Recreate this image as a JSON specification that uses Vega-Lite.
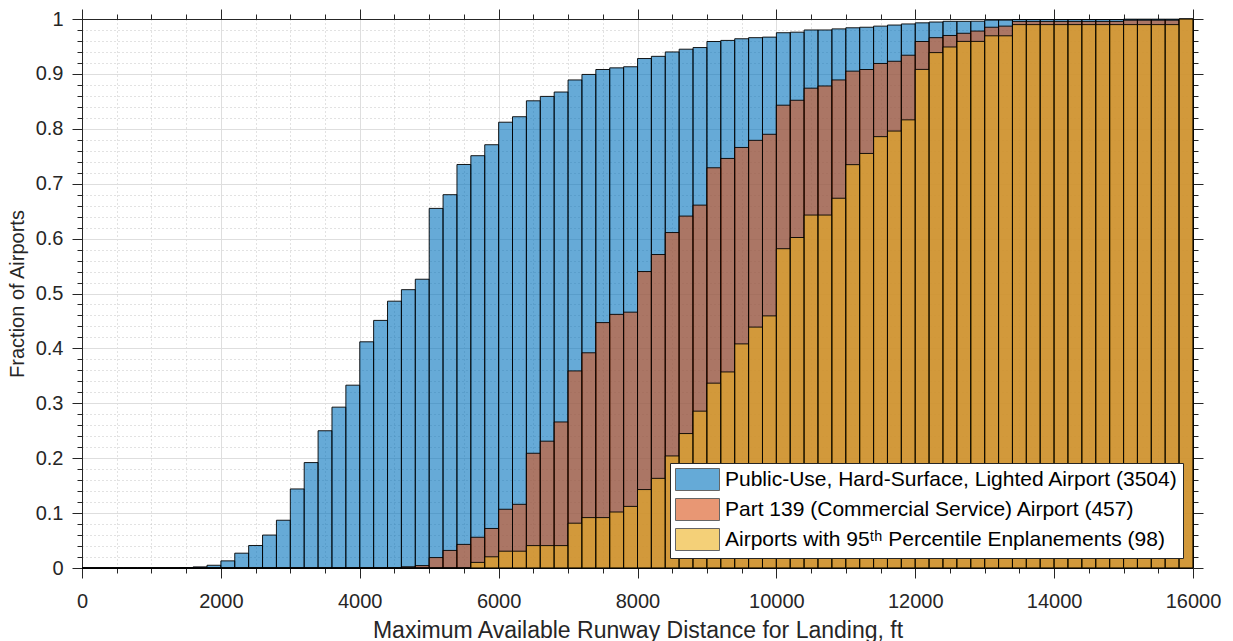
{
  "$schema": "https://vega.github.io/schema/vega-lite/v6.json",
  "width": 1111,
  "height": 549,
  "autosize": {"type": "none"},
  "padding": {"left": 82, "top": 19, "right": 40, "bottom": 73},
  "background": "white",
  "config": {
    "view": {"stroke": null},
    "font": "Liberation Sans",
    "axis": {
      "labelFont": "Liberation Sans",
      "labelFontSize": 20,
      "labelColor": "#262626",
      "titleFont": "Liberation Sans",
      "titleFontSize": 20,
      "titleFontWeight": "normal",
      "titleColor": "#262626",
      "domainColor": "#262626",
      "domainWidth": 1,
      "tickColor": "#262626",
      "tickWidth": 1,
      "labelFlush": false,
      "labelOverlap": false,
      "labelBound": false
    }
  },
  "data": {
    "values": [
      {"lo": 0, "hi": 200, "pub": 0, "p139": 0, "top": 0},
      {"lo": 200, "hi": 400, "pub": 0, "p139": 0, "top": 0},
      {"lo": 400, "hi": 600, "pub": 0, "p139": 0, "top": 0},
      {"lo": 600, "hi": 800, "pub": 0, "p139": 0, "top": 0},
      {"lo": 800, "hi": 1000, "pub": 0, "p139": 0, "top": 0},
      {"lo": 1000, "hi": 1200, "pub": 0, "p139": 0, "top": 0},
      {"lo": 1200, "hi": 1400, "pub": 0, "p139": 0, "top": 0},
      {"lo": 1400, "hi": 1600, "pub": 0.0006, "p139": 0, "top": 0},
      {"lo": 1600, "hi": 1800, "pub": 0.002, "p139": 0, "top": 0},
      {"lo": 1800, "hi": 2000, "pub": 0.005, "p139": 0, "top": 0},
      {"lo": 2000, "hi": 2200, "pub": 0.013, "p139": 0, "top": 0},
      {"lo": 2200, "hi": 2400, "pub": 0.027, "p139": 0, "top": 0},
      {"lo": 2400, "hi": 2600, "pub": 0.041, "p139": 0, "top": 0},
      {"lo": 2600, "hi": 2800, "pub": 0.060, "p139": 0, "top": 0},
      {"lo": 2800, "hi": 3000, "pub": 0.087, "p139": 0, "top": 0},
      {"lo": 3000, "hi": 3200, "pub": 0.144, "p139": 0, "top": 0},
      {"lo": 3200, "hi": 3400, "pub": 0.192, "p139": 0, "top": 0},
      {"lo": 3400, "hi": 3600, "pub": 0.250, "p139": 0, "top": 0},
      {"lo": 3600, "hi": 3800, "pub": 0.293, "p139": 0, "top": 0},
      {"lo": 3800, "hi": 4000, "pub": 0.333, "p139": 0, "top": 0},
      {"lo": 4000, "hi": 4200, "pub": 0.412, "p139": 0, "top": 0},
      {"lo": 4200, "hi": 4400, "pub": 0.451, "p139": 0, "top": 0},
      {"lo": 4400, "hi": 4600, "pub": 0.486, "p139": 0, "top": 0},
      {"lo": 4600, "hi": 4800, "pub": 0.507, "p139": 0.0022, "top": 0},
      {"lo": 4800, "hi": 5000, "pub": 0.526, "p139": 0.0044, "top": 0},
      {"lo": 5000, "hi": 5200, "pub": 0.655, "p139": 0.019, "top": 0},
      {"lo": 5200, "hi": 5400, "pub": 0.680, "p139": 0.032, "top": 0},
      {"lo": 5400, "hi": 5600, "pub": 0.735, "p139": 0.043, "top": 0},
      {"lo": 5600, "hi": 5800, "pub": 0.751, "p139": 0.056, "top": 0.0102},
      {"lo": 5800, "hi": 6000, "pub": 0.771, "p139": 0.072, "top": 0.0204},
      {"lo": 6000, "hi": 6200, "pub": 0.812, "p139": 0.107, "top": 0.0306},
      {"lo": 6200, "hi": 6400, "pub": 0.822, "p139": 0.116, "top": 0.0306},
      {"lo": 6400, "hi": 6600, "pub": 0.851, "p139": 0.209, "top": 0.0408},
      {"lo": 6600, "hi": 6800, "pub": 0.859, "p139": 0.231, "top": 0.0408},
      {"lo": 6800, "hi": 7000, "pub": 0.867, "p139": 0.266, "top": 0.0408},
      {"lo": 7000, "hi": 7200, "pub": 0.889, "p139": 0.359, "top": 0.0816},
      {"lo": 7200, "hi": 7400, "pub": 0.899, "p139": 0.392, "top": 0.0918},
      {"lo": 7400, "hi": 7600, "pub": 0.908, "p139": 0.447, "top": 0.0918},
      {"lo": 7600, "hi": 7800, "pub": 0.911, "p139": 0.462, "top": 0.1020},
      {"lo": 7800, "hi": 8000, "pub": 0.913, "p139": 0.466, "top": 0.1122},
      {"lo": 8000, "hi": 8200, "pub": 0.928, "p139": 0.540, "top": 0.1429},
      {"lo": 8200, "hi": 8400, "pub": 0.932, "p139": 0.571, "top": 0.1633},
      {"lo": 8400, "hi": 8600, "pub": 0.940, "p139": 0.611, "top": 0.2041},
      {"lo": 8600, "hi": 8800, "pub": 0.945, "p139": 0.641, "top": 0.2449},
      {"lo": 8800, "hi": 9000, "pub": 0.948, "p139": 0.661, "top": 0.2857},
      {"lo": 9000, "hi": 9200, "pub": 0.959, "p139": 0.729, "top": 0.3367},
      {"lo": 9200, "hi": 9400, "pub": 0.961, "p139": 0.746, "top": 0.3571},
      {"lo": 9400, "hi": 9600, "pub": 0.964, "p139": 0.766, "top": 0.4082},
      {"lo": 9600, "hi": 9800, "pub": 0.966, "p139": 0.779, "top": 0.4388},
      {"lo": 9800, "hi": 10000, "pub": 0.967, "p139": 0.790, "top": 0.4592},
      {"lo": 10000, "hi": 10200, "pub": 0.975, "p139": 0.843, "top": 0.5816},
      {"lo": 10200, "hi": 10400, "pub": 0.976, "p139": 0.852, "top": 0.6020},
      {"lo": 10400, "hi": 10600, "pub": 0.980, "p139": 0.874, "top": 0.6429},
      {"lo": 10600, "hi": 10800, "pub": 0.980, "p139": 0.878, "top": 0.6429},
      {"lo": 10800, "hi": 11000, "pub": 0.982, "p139": 0.889, "top": 0.6735},
      {"lo": 11000, "hi": 11200, "pub": 0.984, "p139": 0.905, "top": 0.7347},
      {"lo": 11200, "hi": 11400, "pub": 0.985, "p139": 0.908, "top": 0.7551},
      {"lo": 11400, "hi": 11600, "pub": 0.987, "p139": 0.919, "top": 0.7857},
      {"lo": 11600, "hi": 11800, "pub": 0.989, "p139": 0.923, "top": 0.7959},
      {"lo": 11800, "hi": 12000, "pub": 0.991, "p139": 0.934, "top": 0.8163},
      {"lo": 12000, "hi": 12200, "pub": 0.993, "p139": 0.959, "top": 0.9082},
      {"lo": 12200, "hi": 12400, "pub": 0.9945, "p139": 0.966, "top": 0.9388},
      {"lo": 12400, "hi": 12600, "pub": 0.9958, "p139": 0.970, "top": 0.9490},
      {"lo": 12600, "hi": 12800, "pub": 0.9958, "p139": 0.974, "top": 0.9592},
      {"lo": 12800, "hi": 13000, "pub": 0.996, "p139": 0.978, "top": 0.9592},
      {"lo": 13000, "hi": 13200, "pub": 0.998, "p139": 0.985, "top": 0.9694},
      {"lo": 13200, "hi": 13400, "pub": 0.998, "p139": 0.987, "top": 0.9694},
      {"lo": 13400, "hi": 13600, "pub": 0.999, "p139": 0.9956, "top": 0.9898},
      {"lo": 13600, "hi": 13800, "pub": 0.999, "p139": 0.9956, "top": 0.9898},
      {"lo": 13800, "hi": 14000, "pub": 0.999, "p139": 0.9956, "top": 0.9898},
      {"lo": 14000, "hi": 14200, "pub": 0.999, "p139": 0.9956, "top": 0.9898},
      {"lo": 14200, "hi": 14400, "pub": 0.999, "p139": 0.9956, "top": 0.9898},
      {"lo": 14400, "hi": 14600, "pub": 0.999, "p139": 0.9956, "top": 0.9898},
      {"lo": 14600, "hi": 14800, "pub": 0.999, "p139": 0.9956, "top": 0.9898},
      {"lo": 14800, "hi": 15000, "pub": 0.999, "p139": 0.9956, "top": 0.9898},
      {"lo": 15000, "hi": 15200, "pub": 0.9997, "p139": 0.9978, "top": 0.9898},
      {"lo": 15200, "hi": 15400, "pub": 0.9997, "p139": 0.9978, "top": 0.9898},
      {"lo": 15400, "hi": 15600, "pub": 0.9997, "p139": 0.9978, "top": 0.9898},
      {"lo": 15600, "hi": 15800, "pub": 0.9997, "p139": 0.9978, "top": 0.9898},
      {"lo": 15800, "hi": 16000, "pub": 1, "p139": 1, "top": 1}
    ]
  },
  "layer": [
    {
      "mark": {"type": "bar", "fillOpacity": 0.6, "stroke": "black", "strokeWidth": 1, "strokeOpacity": 0.9},
      "encoding": {
        "x": {
          "field": "lo", "type": "quantitative",
          "scale": {"domain": [0, 16000], "nice": false, "zero": false},
          "axis": {
            "orient": "bottom",
            "values": [0, 2000, 4000, 6000, 8000, 10000, 12000, 14000, 16000],
            "format": "d",
            "tickSize": 10,
            "labelPadding": 13,
            "grid": true,
            "gridColor": "#DEDEDE",
            "gridWidth": 1,
            "title": "Maximum Available Runway Distance for Landing, ft",
            "titleFontSize": 23,
            "titlePadding": 8
          }
        },
        "x2": {"field": "hi"},
        "y": {
          "field": "pub", "type": "quantitative",
          "scale": {"domain": [0, 1], "nice": false},
          "axis": {
            "orient": "left",
            "values": [0, 0.1, 0.2, 0.3, 0.4, 0.5, 0.6, 0.7, 0.8, 0.9, 1],
            "format": "~g",
            "tickSize": 10,
            "labelPadding": 9,
            "grid": true,
            "gridColor": "#DEDEDE",
            "gridWidth": 1,
            "title": "Fraction of Airports",
            "titlePadding": 8
          }
        },
        "y2": {"datum": 0},
        "color": {
          "datum": "Public-Use, Hard-Surface, Lighted Airport (3504)",
          "scale": {
            "domain": [
              "Public-Use, Hard-Surface, Lighted Airport (3504)",
              "Part 139 (Commercial Service) Airport (457)",
              "Airports with 95ᵗʰ Percentile Enplanements (98)"
            ],
            "range": ["#0072BD", "#D95319", "#EDB120"]
          },
          "legend": {
            "orient": "bottom-right",
            "offset": 10,
            "title": null,
            "fillColor": "white",
            "strokeColor": "#262626",
            "padding": 5,
            "symbolType": "M-1,-1H3V1H-1Z",
            "symbolSize": 484,
            "symbolOpacity": 0.6,
            "symbolStrokeColor": "black",
            "symbolStrokeWidth": 1,
            "labelFont": "Liberation Sans",
            "labelFontSize": 21,
            "labelColor": "black",
            "labelOffset": 27,
            "labelLimit": 0,
            "rowPadding": 3
          }
        }
      }
    },
    {
      "mark": {"type": "bar", "fillOpacity": 0.6, "stroke": "black", "strokeWidth": 1, "strokeOpacity": 0.9},
      "encoding": {
        "x": {
          "field": "lo", "type": "quantitative",
          "axis": {
            "orient": "bottom",
            "values": [500, 1000, 1500, 2500, 3000, 3500, 4500, 5000, 5500, 6500, 7000, 7500, 8500, 9000, 9500, 10500, 11000, 11500, 12500, 13000, 13500, 14500, 15000, 15500],
            "labels": false,
            "tickSize": 5,
            "grid": true,
            "gridColor": "#C4C4C4",
            "gridDash": [1, 3],
            "title": null
          }
        },
        "x2": {"field": "hi"},
        "y": {
          "field": "p139", "type": "quantitative",
          "axis": {
            "orient": "left",
            "values": [0.02, 0.04, 0.06, 0.08, 0.12, 0.14, 0.16, 0.18, 0.22, 0.24, 0.26, 0.28, 0.32, 0.34, 0.36, 0.38, 0.42, 0.44, 0.46, 0.48, 0.52, 0.54, 0.56, 0.58, 0.62, 0.64, 0.66, 0.68, 0.72, 0.74, 0.76, 0.78, 0.82, 0.84, 0.86, 0.88, 0.92, 0.94, 0.96, 0.98],
            "labels": false,
            "tickSize": 5,
            "grid": true,
            "gridColor": "#C4C4C4",
            "gridDash": [1, 3],
            "title": null
          }
        },
        "y2": {"datum": 0},
        "color": {"datum": "Part 139 (Commercial Service) Airport (457)"}
      }
    },
    {
      "mark": {"type": "bar", "fillOpacity": 0.6, "stroke": "black", "strokeWidth": 1, "strokeOpacity": 0.9},
      "encoding": {
        "x": {
          "field": "lo", "type": "quantitative",
          "axis": {
            "orient": "top",
            "values": [0, 2000, 4000, 6000, 8000, 10000, 12000, 14000, 16000],
            "labels": false,
            "tickSize": 10,
            "grid": false,
            "title": null
          }
        },
        "x2": {"field": "hi"},
        "y": {
          "field": "top", "type": "quantitative",
          "axis": {
            "orient": "right",
            "values": [0, 0.1, 0.2, 0.3, 0.4, 0.5, 0.6, 0.7, 0.8, 0.9, 1],
            "labels": false,
            "tickSize": 10,
            "grid": false,
            "title": null
          }
        },
        "y2": {"datum": 0},
        "color": {"datum": "Airports with 95ᵗʰ Percentile Enplanements (98)"}
      }
    },
    {
      "mark": {"type": "bar", "opacity": 0},
      "encoding": {
        "x": {
          "field": "lo", "type": "quantitative",
          "axis": {
            "orient": "top",
            "values": [500, 1000, 1500, 2500, 3000, 3500, 4500, 5000, 5500, 6500, 7000, 7500, 8500, 9000, 9500, 10500, 11000, 11500, 12500, 13000, 13500, 14500, 15000, 15500],
            "labels": false,
            "tickSize": 5,
            "grid": false,
            "title": null
          }
        },
        "x2": {"field": "hi"},
        "y": {
          "field": "pub", "type": "quantitative",
          "axis": {
            "orient": "right",
            "values": [0.02, 0.04, 0.06, 0.08, 0.12, 0.14, 0.16, 0.18, 0.22, 0.24, 0.26, 0.28, 0.32, 0.34, 0.36, 0.38, 0.42, 0.44, 0.46, 0.48, 0.52, 0.54, 0.56, 0.58, 0.62, 0.64, 0.66, 0.68, 0.72, 0.74, 0.76, 0.78, 0.82, 0.84, 0.86, 0.88, 0.92, 0.94, 0.96, 0.98],
            "labels": false,
            "tickSize": 5,
            "grid": false,
            "title": null
          }
        },
        "y2": {"datum": 0}
      }
    }
  ],
  "resolve": {"axis": {"x": "independent", "y": "independent"}}
}
